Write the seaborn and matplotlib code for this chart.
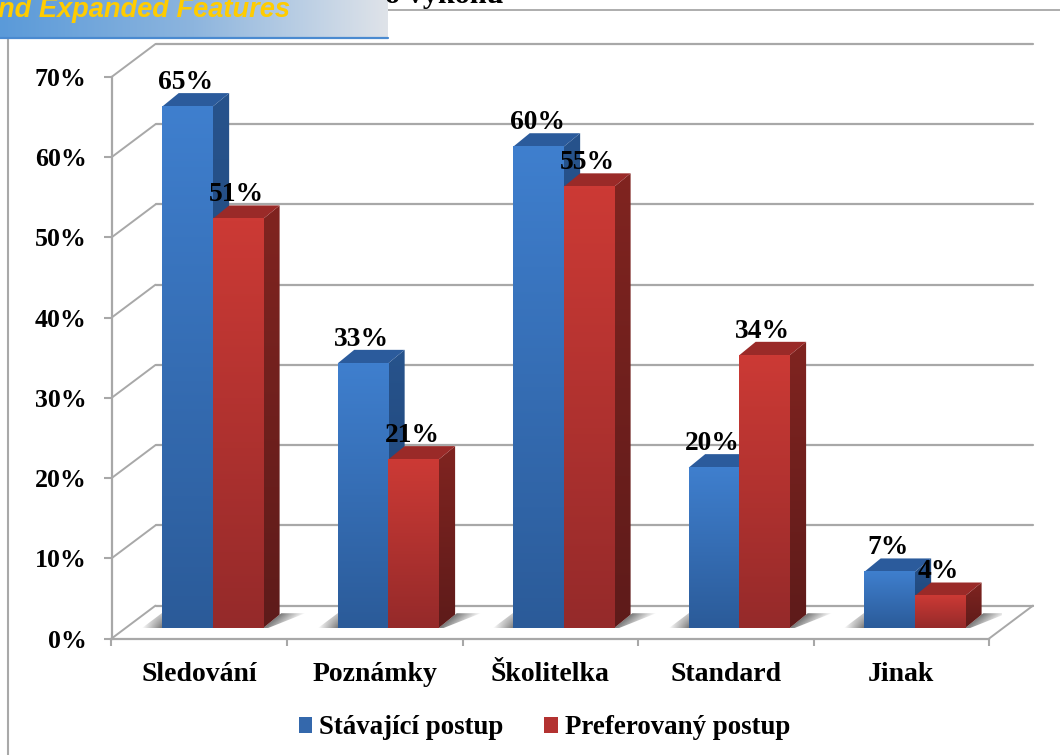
import numpy as np
import pandas as pd
import seaborn as sns
import matplotlib
matplotlib.use("Agg")
import matplotlib.pyplot as plt
from matplotlib.patches import Polygon
from matplotlib.colors import LinearSegmentedColormap

categories = ["Sledování", "Poznámky", "Školitelka", "Standard", "Jinak"]
series_names = ["Stávající postup", "Preferovaný postup"]
current_values = [65, 33, 60, 20, 7]
preferred_values = [51, 21, 55, 34, 4]
y_ticks = [0, 10, 20, 30, 40, 50, 60, 70]

W, H = 1060, 755
SERIF = "Liberation Serif"

# Plot frame in pixels; the wall and the bar plane are copies of it shifted in depth
FRAME_LEFT, FRAME_RIGHT = 111.5, 989.0
FRAME_BOTTOM, FRAME_TOP = 638.6, 77.0
BAR_SHIFT = (13.4, 10.5)
WALL_SHIFT = (44.0, 33.0)
PX_X = (FRAME_RIGHT - FRAME_LEFT) / 5
PX_Y = (FRAME_BOTTOM - FRAME_TOP) / 70
DEPTH = (16.5 / PX_X, 13.5 / PX_Y)
GRID = "#a8a8a8"

FACES = {
    0: dict(front=("#3f7fce", "#2b5b99"), side=("#27538c", "#1e4273"), top="#2b5b9c", base="#3468ac"),
    1: dict(front=("#cc3a35", "#952a2a"), side=("#802420", "#5e1b1a"), top="#9a2a28", base="#b33231"),
}

sns.set_theme(style="white")
plt.rcParams["font.family"] = [SERIF, "DejaVu Sans"]

fig = plt.figure(figsize=(W / 100, H / 100), dpi=100, facecolor="white")


def frame_axes(dx=0.0, dy=0.0, zorder=1):
    left = (FRAME_LEFT + dx) / W
    bottom = 1 - (FRAME_BOTTOM - dy) / H
    a = fig.add_axes([left, bottom, (FRAME_RIGHT - FRAME_LEFT) / W,
                      (FRAME_BOTTOM - FRAME_TOP) / H], zorder=zorder)
    a.set_xlim(-0.5, 4.5)
    a.set_ylim(0, 70)
    a.patch.set_visible(False)
    return a


# Page furniture behind the chart
page = fig.add_axes([0, 0, 1, 1], zorder=0)
page.set_xlim(0, W)
page.set_ylim(H, 0)
page.axis("off")
page.plot([8, 8], [38, H], color="#a9a9a9", lw=1.5)
page.plot([388, W], [10, 10], color="#a0a0a0", lw=1.2)
page.text(385, 3, "o výkonů", fontsize=21.8, fontweight="bold", color="black",
          ha="left", va="baseline", family=SERIF)

banner_cmap = LinearSegmentedColormap.from_list("banner", ["#5a9ad9", "#8db5de", "#dfe3e9"])
page.imshow(np.linspace(0, 1, 256)[None, :], cmap=banner_cmap, aspect="auto",
            extent=(0, 388, 38, 0), zorder=2)
page.plot([0, 388], [38, 38], color="#4a8ad0", lw=1.6, zorder=3)
page.text(290, 17, "nd Expanded Features", fontsize=19.6, fontweight="bold", style="italic",
          color="#ffcc00", ha="right", va="baseline", family="Liberation Sans", zorder=4)
page.set_xlim(0, W)
page.set_ylim(H, 0)

# Back wall: gridlines and the diagonals joining them to the front axis
wall = frame_axes(*WALL_SHIFT, zorder=1)
wall.axis("off")
back_x = -WALL_SHIFT[0] / PX_X
back_y = WALL_SHIFT[1] / PX_Y
for tick in y_ticks:
    wall.plot([-0.5, 4.5], [tick, tick], color=GRID, lw=1.6, clip_on=False)
    wall.plot([-0.5 + back_x, -0.5], [tick - back_y, tick], color=GRID, lw=1.4, clip_on=False)
wall.plot([4.5 + back_x, 4.5], [-back_y, 0], color=GRID, lw=1.4, clip_on=False)

# Front axis with the tick marks and labels
front = frame_axes(zorder=2)
sns.despine(ax=front, top=True, right=True)
for side in ("left", "bottom"):
    front.spines[side].set_color(GRID)
    front.spines[side].set_linewidth(1.6)
front.set_yticks(y_ticks)
front.set_yticklabels([f"{t}%" for t in y_ticks], fontsize=18.6, fontweight="bold", color="black")
front.set_xticks(np.arange(-0.5, 5.0, 1.0))
front.set_xticklabels([])
front.set_xticks(range(len(categories)), labels=categories, minor=True,
                 fontsize=20, fontweight="bold", color="black")
front.tick_params(axis="y", length=6, width=1.5, color=GRID, pad=12, left=True)
front.tick_params(axis="x", which="major", length=5, width=1.5, color=GRID, bottom=True)
front.tick_params(axis="x", which="minor", length=0, pad=16.5)

# Bars, drawn by seaborn in the shifted plane, then given depth and shading
bars = frame_axes(*BAR_SHIFT, zorder=3)
table = pd.DataFrame({
    "kategorie": categories * 2,
    "postup": np.repeat(series_names, len(categories)),
    "podil": current_values + preferred_values,
})
sns.barplot(data=table, x="kategorie", y="podil", hue="postup", ax=bars,
            palette=[FACES[0]["base"], FACES[1]["base"]], width=0.575, gap=0,
            linewidth=0, saturation=1, errorbar=None)
bars.set_xlim(-0.5, 4.5)
bars.set_ylim(0, 70)
bars.axis("off")


def gradient(ax, colors, extent, clip=None, zorder=3):
    cmap = LinearSegmentedColormap.from_list("face", colors)
    ramp = np.linspace(0, 1, 128)[:, None]
    im = ax.imshow(ramp, cmap=cmap, aspect="auto", extent=extent, origin="upper",
                   interpolation="bilinear", zorder=zorder)
    if clip is not None:
        clip.set_transform(ax.transData)
        im.set_clip_path(clip)
    return im


def floor_shadow(ax, extent, opacity, outline):
    """Grey wash on the floor; opacity maps floor positions (x, y) to 0..1."""
    xs = np.linspace(extent[0], extent[1], 80)
    ys = np.linspace(extent[2], extent[3], 40)
    gx, gy = np.meshgrid(xs, ys)
    rgba = np.zeros(gx.shape + (4,))
    rgba[..., :3] = 0.38
    rgba[..., 3] = np.clip(opacity(gx, gy), 0, 1)
    im = ax.imshow(rgba, aspect="auto", extent=extent, origin="lower",
                   interpolation="bilinear", zorder=1.5)
    clip = Polygon(outline, closed=True, transform=ax.transData)
    im.set_clip_path(clip)


reach_right = 24 / PX_X
reach_left = 20 / PX_X
for s, container in enumerate(bars.containers):
    style = FACES[s]
    for patch in container:
        x0, w, h = patch.get_x(), patch.get_width(), patch.get_height()
        x1 = x0 + w
        dx, dy = DEPTH
        base = 2 * s + 3
        top_y = dy * 1.1
        # Shadows fall to the right of the red bar and to the left of the blue one
        if s == 1:
            floor_shadow(
                bars, (x1, x1 + dx * 1.1 + reach_right, 0, top_y),
                lambda gx, gy, a=x1: 0.85 * (1 - (gx - a - gy / dy * dx) / reach_right),
                [(x1, 0), (x1 + dx * 1.1, top_y), (x1 + dx * 1.1 + reach_right, top_y),
                 (x1 + reach_right * 0.2, 0)],
            )
        else:
            floor_shadow(
                bars, (x0 - reach_left, x0, 0, top_y),
                lambda gx, gy, a=x0: 0.85 * (1 - (a - gx) / reach_left) * (1 - gy / top_y * 0.6),
                [(x0 - reach_left, 0), (x0, 0), (x0, top_y)],
            )
        # Side face, lit at the top and dark at the floor
        side = Polygon([(x1, 0), (x1 + dx, dy), (x1 + dx, h + dy), (x1, h)], closed=True)
        gradient(bars, style["side"], (x1, x1 + dx, 0, h + dy), clip=side, zorder=base)
        # Top face
        bars.add_patch(Polygon([(x0, h), (x0 + dx, h + dy), (x1 + dx, h + dy), (x1, h)],
                               closed=True, facecolor=style["top"], edgecolor="none", zorder=base))
        # Front face
        patch.set_zorder(base + 0.5)
        gradient(bars, style["front"], (x0, x1, 0, h), zorder=base + 0.6)
        bars.annotate(f"{h:.0f}%", xy=(x0 + w / 2, h), xytext=(-1, 17.5),
                      textcoords="offset points", ha="center", va="center",
                      fontsize=19.8, fontweight="bold", color="black", zorder=10,
                      annotation_clip=False)
bars.set_xlim(-0.5, 4.5)
bars.set_ylim(0, 70)

# Legend with small square keys under the chart
handles, labels = bars.get_legend_handles_labels()
if bars.get_legend() is not None:
    bars.get_legend().remove()
fig.legend(handles, labels, loc="center", bbox_to_anchor=(544.5 / W, 1 - 728 / H), ncol=2,
           frameon=False, handlelength=0.5, handleheight=0.5, handletextpad=0.26,
           columnspacing=1.5, labelcolor="black",
           prop={"family": SERIF, "size": 19.4, "weight": "bold"})

fig.savefig("out.png", dpi=100, facecolor="white")
